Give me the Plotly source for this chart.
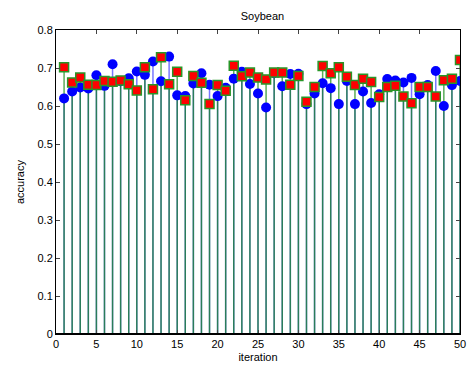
import plotly.graph_objects as go

iteration = list(range(1, 51))
acc_blue = [0.620, 0.638, 0.649, 0.646, 0.681, 0.653, 0.710, 0.665, 0.673, 0.691,
            0.682, 0.717, 0.665, 0.730, 0.628, 0.626, 0.659, 0.686, 0.656, 0.626,
            0.648, 0.672, 0.690, 0.658, 0.633, 0.596, 0.686, 0.652, 0.684, 0.685,
            0.605, 0.633, 0.660, 0.647, 0.605, 0.666, 0.605, 0.638, 0.608, 0.631,
            0.671, 0.667, 0.662, 0.674, 0.631, 0.655, 0.692, 0.600, 0.655, 0.666]
acc_red = [0.702, 0.662, 0.675, 0.656, 0.655, 0.666, 0.664, 0.667, 0.657, 0.641,
           0.702, 0.644, 0.728, 0.657, 0.690, 0.615, 0.679, 0.661, 0.605, 0.655,
           0.640, 0.706, 0.678, 0.688, 0.675, 0.670, 0.688, 0.688, 0.656, 0.679,
           0.611, 0.650, 0.705, 0.686, 0.702, 0.677, 0.655, 0.672, 0.663, 0.624,
           0.650, 0.653, 0.625, 0.607, 0.650, 0.650, 0.625, 0.668, 0.672, 0.721]

x_ticks = [0, 5, 10, 15, 20, 25, 30, 35, 40, 45, 50]
y_ticks = [0, 0.1, 0.2, 0.3, 0.4, 0.5, 0.6, 0.7, 0.8]


def stems(xs, ys):
    sx, sy = [], []
    for a, b in zip(xs, ys):
        sx += [a, a, None]
        sy += [0, b, None]
    return sx, sy


fig = go.Figure()
bx, by = stems(iteration, acc_blue)
rx, ry = stems(iteration, acc_red)
fig.add_trace(go.Scatter(x=bx, y=by, mode="lines",
                         line=dict(color="rgb(120,120,255)", width=1.5),
                         hoverinfo="skip", showlegend=False))
fig.add_trace(go.Scatter(x=rx, y=ry, mode="lines",
                         line=dict(color="rgba(0,128,0,0.65)", width=1.5),
                         hoverinfo="skip", showlegend=False))
fig.add_trace(go.Scatter(x=iteration, y=acc_blue, mode="markers",
                         marker=dict(symbol="circle", size=10, color="blue",
                                     line=dict(width=0)),
                         showlegend=False))
fig.add_trace(go.Scatter(x=iteration, y=acc_red, mode="markers",
                         marker=dict(symbol="square", size=9, color="red",
                                     line=dict(width=1.5, color="rgb(40,150,40)")),
                         showlegend=False))

axis_font = dict(family="Liberation Sans, Arial, sans-serif", size=11, color="black")
fig.update_layout(
    width=473, height=369,
    margin=dict(l=56, r=7, t=30, b=34),
    paper_bgcolor="white", plot_bgcolor="white",
    title=dict(text="Soybean", x=0.555, xanchor="center", y=0.955, yanchor="middle",
               font=dict(family="Liberation Sans, Arial, sans-serif", size=11, color="black")),
    font=axis_font,
    xaxis=dict(range=[0, 50], tickvals=x_ticks, ticks="inside", ticklen=4,
               showline=True, linecolor="black", linewidth=1, mirror="ticks",
               showgrid=False, zeroline=False, tickfont=axis_font,
               title=dict(text="iteration", font=axis_font, standoff=4)),
    yaxis=dict(range=[0, 0.8], tickvals=y_ticks,
               ticktext=["0", "0.1", "0.2", "0.3", "0.4", "0.5", "0.6", "0.7", "0.8"],
               ticks="inside", ticklen=4,
               showline=True, linecolor="black", linewidth=1, mirror="ticks",
               showgrid=False, zeroline=False, tickfont=axis_font,
               title=dict(text="accuracy", font=axis_font, standoff=10)),
)
fig.add_shape(type="line", xref="x", yref="y", x0=0, x1=50, y0=0, y1=0,
              line=dict(color="black", width=2))

fig.write_html("out.html")
